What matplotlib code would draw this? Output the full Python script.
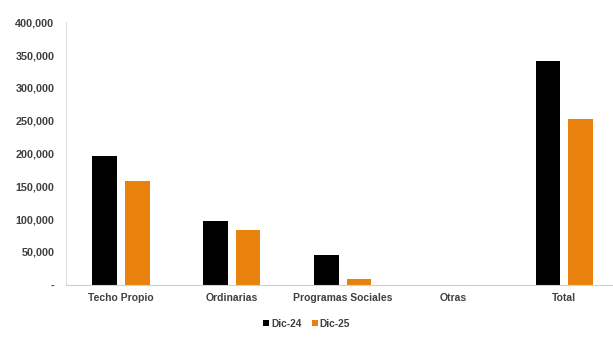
import numpy as np
import matplotlib
matplotlib.use('Agg')
import matplotlib.pyplot as plt
from matplotlib.ticker import FuncFormatter

categories = ['Techo Propio', 'Ordinarias', 'Programas Sociales', 'Otras', 'Total']
dic_24 = [196000, 97000, 45000, 0, 341000]
dic_25 = [158000, 83000, 9000, 0, 253000]
series_names = ['Dic-24', 'Dic-25']

plt.rcParams['font.family'] = ['Liberation Sans', 'DejaVu Sans']

fig = plt.figure(figsize=(6.13, 3.37), dpi=100)
ax = fig.add_axes([0.107, 0.155, 0.893, 0.779])

x = np.arange(len(categories))
w = 0.221
ax.bar(x - 0.147, dic_24, w, color='#000000', label=series_names[0])
ax.bar(x + 0.147, dic_25, w, color='#E8820C', label=series_names[1])

ax.set_xlim(-0.5, 4.44)
ax.set_ylim(0, 400000)
ax.set_yticks(np.arange(0, 400001, 50000))
ax.yaxis.set_major_formatter(FuncFormatter(lambda v, p: '-' if v == 0 else f'{int(v):,}'))
ax.set_xticks(x)
ax.set_xticklabels(categories)

for s in ['top', 'right']:
    ax.spines[s].set_visible(False)
ax.spines['left'].set_color('#e0e0e0')
ax.spines['bottom'].set_color('#d0d0d0')
ax.tick_params(axis='both', length=0, colors='#404040')
ax.tick_params(axis='y', pad=8, labelsize=7.8)
ax.tick_params(axis='x', pad=6, labelsize=7.5)
for lbl in ax.get_xticklabels() + ax.get_yticklabels():
    lbl.set_fontweight('bold')

leg = fig.legend(loc='center', bbox_to_anchor=(0.5, 0.04), ncol=2, frameon=False,
                 fontsize=7.3, handlelength=0.6, handleheight=0.6, handletextpad=0.2,
                 columnspacing=1.0)
for t in leg.get_texts():
    t.set_color('#404040')
    t.set_fontweight('bold')

plt.savefig('out.png', dpi=100)
plt.close()
